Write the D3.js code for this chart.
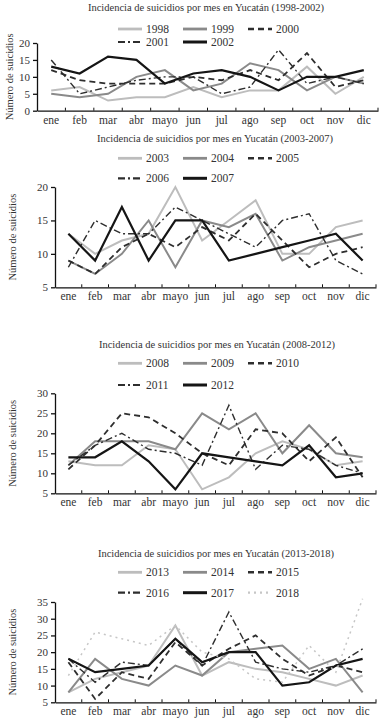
<!DOCTYPE html>
<html>
<head>
<meta charset="utf-8">
<script src="https://cdn.jsdelivr.net/npm/d3@7"></script>
<style>
  body { margin: 0; background: #fff; }
  svg { display: block; font-family: "Liberation Serif", "DejaVu Serif", serif; }
</style>
</head>
<body>
<div id="chart-area"></div>
<script>
var months = ["ene", "feb", "mar", "abr", "mayo", "jun", "jul", "ago", "sep", "oct", "nov", "dic"];

// 1998-2002
var y1998 = [6, 7, 3, 4, 4, 7, 4, 6, 6, 13, 5, 10];
var y1999 = [5, 4, 5, 10, 12, 6, 8, 14, 12, 6, 10, 8];
var y2000 = [12, 9, 8, 8, 8, 10, 9, 12, 9, 17, 7, 9];
var y2001 = [15, 5, 7, 9, 10, 10, 5, 7, 18, 8, 10, 8];
var y2002 = [13, 11, 16, 15, 8, 11, 12, 10, 6, 10, 10, 12];

// 2003-2007
var y2003 = [13, 10, 12, 13, 20, 12, 15, 18, 10, 10, 14, 15];
var y2004 = [9, 7, 10, 15, 8, 15, 14, 16, 9, 11, 12, 13];
var y2005 = [9, 7, 11, 13, 11, 14, 12, 16, 12, 8, 10, 11];
var y2006 = [8, 15, 13, 13, 17, 15, 13, 11, 15, 16, 9, 7];
var y2007 = [13, 9, 17, 9, 15, 15, 9, 10, 11, 12, 13, 9];

// 2008-2012
var y2008 = [13, 12, 12, 17, 16, 6, 9, 15, 18, 16, 12, 13];
var y2009 = [12, 18, 18, 18, 16, 25, 21, 25, 15, 22, 15, 14];
var y2010 = [11, 17, 25, 24, 20, 15, 12, 21, 20, 13, 19, 9];
var y2011 = [12, 17, 20, 16, 15, 12, 27, 11, 17, 16, 12, 10];
var y2012 = [14, 14, 18, 13, 6, 15, 14, 13, 12, 17, 9, 10];

// 2013-2018
var y2013 = [8, 12, 14, 16, 28, 13, 17, 15, 14, 12, 10, 13];
var y2014 = [8, 18, 12, 10, 16, 13, 20, 21, 22, 15, 18, 8];
var y2015 = [17, 6, 14, 12, 23, 16, 21, 25, 18, 13, 16, 14];
var y2016 = [18, 11, 17, 16, 24, 16, 32, 17, 15, 14, 16, 21];
var y2017 = [18, 14, 15, 16, 24, 17, 20, 20, 10, 11, 16, 18];
var y2018 = [13, 26, 24, 22, 28, 20, 18, 12, 11, 22, 14, 36];

var styles = [
  { color: "#bdbdbd", width: 2, dash: null },
  { color: "#8a8a8a", width: 2, dash: null },
  { color: "#2e2e2e", width: 1.8, dash: "6,4" },
  { color: "#2e2e2e", width: 1.4, dash: "7,3,2,3" },
  { color: "#151515", width: 2.2, dash: null },
  { color: "#c6c6c6", width: 1.5, dash: "2,4" }
];

var panels = [
  {
    title: "Incidencia de suicidios por mes en Yucatán (1998-2002)",
    years: ["1998", "1999", "2000", "2001", "2002"],
    series: [y1998, y1999, y2000, y2001, y2002],
    yDomain: [0, 20], yTicks: [0, 5, 10, 15, 20],
    x0: 37, x1: 378, yTop: 43, yBottom: 110.7,
    titleX: 206, titleY: 11, legendY: [29, 42], labelX: 13
  },
  {
    title: "Incidencia de suicidios por mes en Yucatán (2003-2007)",
    years: ["2003", "2004", "2005", "2006", "2007"],
    series: [y2003, y2004, y2005, y2006, y2007],
    yDomain: [5, 20], yTicks: [5, 10, 15, 20],
    x0: 55, x1: 376, yTop: 187, yBottom: 287.3,
    titleX: 215, titleY: 142, legendY: [158.3, 178.3], labelX: 16
  },
  {
    title: "Incidencia de suicidios por mes en Yucatán (2008-2012)",
    years: ["2008", "2009", "2010", "2011", "2012"],
    series: [y2008, y2009, y2010, y2011, y2012],
    yDomain: [5, 30], yTicks: [5, 10, 15, 20, 25, 30],
    x0: 55, x1: 376, yTop: 393.3, yBottom: 493.3,
    titleX: 217, titleY: 348, legendY: [363.3, 385], labelX: 16
  },
  {
    title: "Incidencia de suicidios por mes en Yucatán (2013-2018)",
    years: ["2013", "2014", "2015", "2016", "2017", "2018"],
    series: [y2013, y2014, y2015, y2016, y2017, y2018],
    yDomain: [5, 35], yTicks: [5, 10, 15, 20, 25, 30, 35],
    x0: 55, x1: 376, yTop: 602, yBottom: 702.3,
    titleX: 216, titleY: 557, legendY: [572.3, 592.7], labelX: 16
  }
];

var legendCols = [118, 183, 248];

var svg = d3.select("#chart-area")
  .append("svg")
  .attr("width", 383)
  .attr("height", 720);

panels.forEach(p => {
  var g = svg.append("g");

  var x = d3.scaleBand()
    .domain(months)
    .range([p.x0, p.x1]);

  var y = d3.scaleLinear()
    .domain(p.yDomain)
    .range([p.yBottom, p.yTop]);

  g.append("text")
    .attr("x", p.titleX)
    .attr("y", p.titleY)
    .attr("text-anchor", "middle")
    .attr("font-size", "10.5px")
    .style("fill", "#333")
    .text(p.title);

  // legend, three per row
  p.years.forEach((yr, i) => {
    var col = i < 3 ? i : i - 3;
    var ly = p.legendY[i < 3 ? 0 : 1];
    var st = styles[i];
    g.append("line")
      .attr("x1", legendCols[col]).attr("x2", legendCols[col] + 24)
      .attr("y1", ly).attr("y2", ly)
      .attr("stroke", st.color)
      .attr("stroke-width", st.width + 0.8)
      .attr("stroke-dasharray", st.dash);
    g.append("text")
      .attr("x", legendCols[col] + 28)
      .attr("y", ly + 4)
      .attr("font-size", "11.5px")
      .style("fill", "#333")
      .text(yr);
  });

  // y axis
  var yAxisG = g.append("g")
    .attr("transform", "translate(" + p.x0 + ",0)")
    .call(d3.axisLeft(y).tickValues(p.yTicks).tickSize(4).tickSizeOuter(0).tickPadding(3));
  yAxisG.selectAll("text").attr("font-size", "11px").attr("font-family", "Liberation Serif").style("fill", "#333");
  yAxisG.selectAll(".domain, .tick line").attr("stroke", "#111").attr("stroke-width", 1.3);

  // x axis, ticks between categories
  var xAxisG = g.append("g")
    .attr("transform", "translate(0," + p.yBottom + ")")
    .call(d3.axisBottom(x).tickSize(0).tickPadding(5));
  xAxisG.selectAll("text").attr("font-size", "11.5px").attr("font-family", "Liberation Serif").style("fill", "#333");
  xAxisG.select(".domain").attr("stroke", "#111").attr("stroke-width", 1.3);
  g.selectAll(null)
    .data(months.map(m => x(m) + x.bandwidth()))
    .enter().append("line")
    .attr("x1", d => d).attr("x2", d => d)
    .attr("y1", p.yBottom).attr("y2", p.yBottom - 3)
    .attr("stroke", "#111");

  g.append("text")
    .attr("transform", "translate(" + p.labelX + "," + ((p.yTop + p.yBottom) / 2) + ") rotate(-90)")
    .attr("text-anchor", "middle")
    .attr("font-size", "10.5px")
    .style("fill", "#333")
    .text("Número de suicidios");

  var line = d3.line()
    .x((d, i) => x(months[i]) + x.bandwidth() / 2)
    .y(d => y(d));

  p.series.forEach((vals, i) => {
    var st = styles[i];
    g.append("path")
      .datum(vals)
      .attr("fill", "none")
      .attr("stroke", st.color)
      .attr("stroke-width", st.width)
      .attr("stroke-dasharray", st.dash)
      .attr("stroke-linejoin", "miter")
      .attr("d", line);
  });
});
</script>
</body>
</html>
